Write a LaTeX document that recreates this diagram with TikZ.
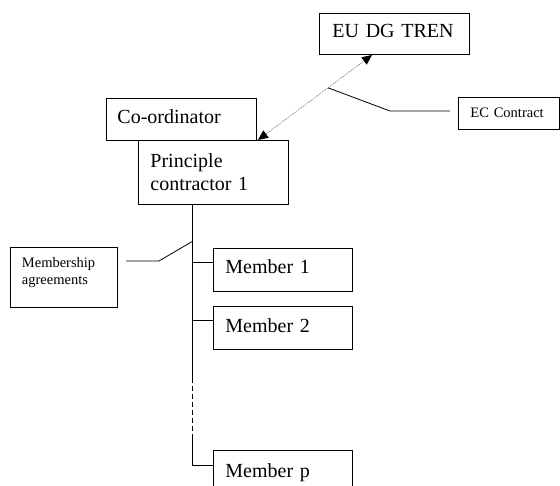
\documentclass[tikz,border=0pt]{standalone}
\usepackage{fontspec}
\setmainfont{Liberation Serif}
\usetikzlibrary{arrows.meta,calc}
\begin{document}
\begin{tikzpicture}[x=1pt,y=-1pt,
  box/.style={draw, line width=0.9pt, anchor=north west, inner ysep=0pt, align=left},
  big/.style={font=\fontsize{20}{23.3}\selectfont},
  small/.style={font=\fontsize{14.5}{17.3}\selectfont},
  lead/.style={line width=0.8pt},
  trunk/.style={line width=0.9pt}]
\useasboundingbox (0,0) rectangle (560,486);
% boxes
\node[box,big,inner xsep=13pt,text width=124pt,text height=24.3pt,text depth=16.7pt] (eu) at (319,13) {EU DG TREN};
\node[box,big,inner xsep=11pt,text width=128pt,text height=25.3pt,text depth=16.7pt] (coord) at (106,98) {Co-ordinator};
\node[box,big,inner xsep=12pt,text width=126pt,text height=26.7pt,text depth=37.3pt,fill=white] (pc) at (138,140) {Principle\\contractor 1};
\node[box,small,inner xsep=12pt,text width=77pt,text height=19.7pt,text depth=12.3pt] (ec) at (458,97) {EC Contract};
\node[box,small,inner xsep=11.5pt,text width=84pt,text height=19.6pt,text depth=40.4pt] (memb) at (10,247) {Membership\\agreements};
\node[box,big,inner xsep=12pt,text width=115pt,text height=25.3pt,text depth=17.7pt] (m1) at (213,248) {Member 1};
\node[box,big,inner xsep=12pt,text width=115pt,text height=25.7pt,text depth=17.3pt] (m2) at (213,306) {Member 2};
\node[box,big,inner xsep=12pt,text width=115pt,text height=26.7pt,text depth=17pt] (mp) at (213,450) {Member p};
% contract arrow
\coordinate (a1) at (258,140);
\coordinate (a2) at (eu.south -| 372,0);
\coordinate (a2) at (372,55);
\draw[draw=black!60, line width=0.6pt, dash pattern=on 1pt off 1pt,
  {Triangle[length=10pt,width=9pt,color=black]}-{Triangle[length=10pt,width=9pt,color=black]}] (a1) -- (a2);
\coordinate (ec1) at ($(a1)!0.614!(a2)$);
\coordinate (ec2) at (390,111);
\coordinate (ec3) at (450,111);
\draw[lead] (ec1) -- (ec2) -- (ec3);
% trunk
\coordinate (tk) at (192,0);
\coordinate (d1) at (192,378);
\coordinate (d2) at (192,435);
\coordinate (d3) at (192,465);
\coordinate (c1) at (192,262);
\coordinate (c2) at (192,320);
\draw[trunk] (pc.south -| tk) -- (d1);
\draw[trunk, dash pattern=on 5pt off 3pt] (d1) -- (d2);
\draw[trunk] (d2) -- (d3) -- (d3 -| mp.west);
\draw[trunk] (c1) -- (c1 -| m1.west);
\draw[trunk] (c2) -- (c2 -| m2.west);
% membership leader
\coordinate (ml1) at (126,261);
\coordinate (ml2) at (159,261);
\coordinate (ml3) at (193,241);
\draw[lead] (ml1) -- (ml2) -- (ml3);
\end{tikzpicture}
\end{document}
